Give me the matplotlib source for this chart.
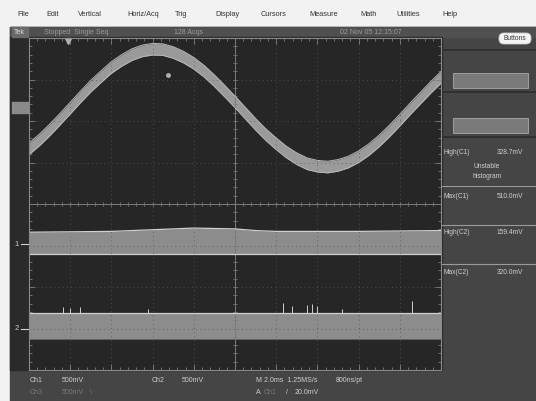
import numpy as np
import matplotlib
matplotlib.use("Agg")
import matplotlib.pyplot as plt
from matplotlib.patches import Rectangle, FancyBboxPatch

plt.rcParams['font.family'] = ['Liberation Sans', 'DejaVu Sans']

# --- data (x and y in graticule divisions) ---
sine_x = [0.0, 0.25, 0.5, 0.75, 1.0, 1.25, 1.5, 1.75, 2.0, 2.25, 2.5, 2.75,
          3.0, 3.25, 3.5, 3.75, 4.0, 4.25, 4.5, 4.75, 5.0, 5.25, 5.5, 5.75,
          6.0, 6.25, 6.5, 6.75, 7.0, 7.25, 7.5, 7.75, 8.0, 8.25, 8.5, 8.75,
          9.0, 9.25, 9.5, 9.75, 10.0]
sine_y = [1.33, 1.54, 1.78, 2.04, 2.31, 2.58, 2.84, 3.07, 3.29, 3.46, 3.60, 3.69,
          3.73, 3.72, 3.65, 3.54, 3.39, 3.20, 2.97, 2.72, 2.46, 2.19, 1.92, 1.67,
          1.45, 1.25, 1.09, 0.97, 0.91, 0.89, 0.93, 1.01, 1.14, 1.31, 1.52, 1.76,
          2.02, 2.29, 2.55, 2.81, 3.05]

ch1_x = [0, 1, 2, 3, 4, 5, 5.5, 6, 7, 8, 9, 10]
ch1_top = [-0.68, -0.67, -0.66, -0.62, -0.58, -0.60, -0.64, -0.66, -0.66, -0.66, -0.65, -0.64]
ch1_bottom = -1.20

ch2_top = -2.63
ch2_bottom = -3.25
spike_x = [0.83, 1.0, 1.24, 2.9, 6.17, 6.38, 6.75, 6.87, 6.99, 7.6, 9.3]
spike_top = [-2.48, -2.50, -2.47, -2.52, -2.39, -2.46, -2.44, -2.42, -2.45, -2.52, -2.34]

menu_items = ["File", "Edit", "Vertical", "Horiz/Acq", "Trig", "Display",
              "Cursors", "Measure", "Math", "Utilities", "Help"]
menu_pos = [17, 46, 78, 127, 175, 215, 261, 309, 360, 396, 442]

meas_names = ["High(C1)", "Max(C1)", "High(C2)", "Max(C2)"]
meas_values = ["328.7mV", "510.0mV", "159.4mV", "320.0mV"]
meas_rows = [153, 196, 233, 272]

W, H = 536, 401
fig = plt.figure(figsize=(W / 100, H / 100), dpi=100)

# background axes in pixel coordinates
bg = fig.add_axes([0, 0, 1, 1])
bg.set_xlim(0, W)
bg.set_ylim(H, 0)
bg.axis('off')
bg.add_patch(Rectangle((0, 0), W, H, color='#f2f2f2'))
bg.add_patch(Rectangle((10, 27), W - 10, H - 27, color='#454545'))
bg.add_patch(Rectangle((10, 27), W - 10, 10, color='#505050'))
bg.add_patch(Rectangle((10, 37), 432, 333, color='#2a2a2a'))

for name, px in zip(menu_items, menu_pos):
    bg.text(px, 15, name, fontsize=5.3, color='#333333', va='center')

# status bar
bg.add_patch(Rectangle((12, 27), 16, 10, color='#6a6a6a'))
bg.text(14, 32, "Tek", fontsize=5, color='#dddddd', va='center')
bg.text(44, 32, "Stopped  Single Seq", fontsize=5, color='#9a9a9a', va='center')
bg.text(174, 32, "128 Acqs", fontsize=5, color='#9a9a9a', va='center')
bg.text(340, 32, "02 Nov 05 12:15:07", fontsize=5, color='#9a9a9a', va='center')
bg.add_patch(FancyBboxPatch((499, 33), 32, 11, boxstyle="round,pad=0,rounding_size=5",
                            fc='#f4f4f4', ec='#cccccc', lw=0.6))
bg.text(515, 38.5, "Buttons", fontsize=4.8, color='#333333', ha='center', va='center')

# right panel
for yy in [50, 92, 137]:
    bg.plot([442, W], [yy, yy], color='#2c2c2c', lw=1.2)
for yy in [186, 225, 264]:
    bg.plot([442, W], [yy, yy], color='#9a9a9a', lw=0.8)
for yy in [73, 118]:
    bg.add_patch(Rectangle((453, yy), 75, 15, fc='#7a7a7a', ec='#a0a0a0', lw=0.7))
for name, val, yy in zip(meas_names, meas_values, meas_rows):
    bg.text(444, yy, name, fontsize=4.8, color='#d0d0d0', va='center')
    bg.text(497, yy, val, fontsize=4.8, color='#d0d0d0', va='center')
bg.text(487, 166, "Unstable", fontsize=4.8, color='#d0d0d0', ha='center', va='center')
bg.text(487, 177, "histogram", fontsize=4.8, color='#d0d0d0', ha='center', va='center')

# left strip markers
bg.add_patch(Rectangle((12, 102), 16, 11, color='#8a8a8a'))
bg.text(17, 244, "1", fontsize=5.5, color='#d0d0d0', ha='center', va='center')
bg.plot([21, 28], [244, 244], color='#d0d0d0', lw=0.8)
bg.text(17, 329, "2", fontsize=5.5, color='#d0d0d0', ha='center', va='center')
bg.plot([21, 28], [329, 329], color='#d0d0d0', lw=0.8)

# bottom readout
bg.text(30, 380, "Ch1", fontsize=5, color='#cfcfcf', va='center')
bg.text(62, 380, "500mV", fontsize=5, color='#cfcfcf', va='center')
bg.text(152, 380, "Ch2", fontsize=5, color='#cfcfcf', va='center')
bg.text(182, 380, "500mV", fontsize=5, color='#cfcfcf', va='center')
bg.text(256, 380, "M 2.0ms  1.25MS/s", fontsize=5, color='#cfcfcf', va='center')
bg.text(336, 380, "800ns/pt", fontsize=5, color='#cfcfcf', va='center')
bg.text(30, 392, "Ch3", fontsize=5, color='#7a7a7a', va='center')
bg.text(62, 392, "500mV", fontsize=5, color='#7a7a7a', va='center')
bg.text(90, 392, "\\", fontsize=5, color='#7a7a7a', va='center')
bg.text(256, 392, "A", fontsize=5, color='#cfcfcf', va='center')
bg.text(264, 392, "Ch1", fontsize=5, color='#7a7a7a', va='center')
bg.text(286, 392, "/", fontsize=5, color='#cfcfcf', va='center')
bg.text(295, 392, "20.0mV", fontsize=5, color='#cfcfcf', va='center')

# scope graticule
ax = fig.add_axes([29 / W, (H - 370) / H, 412 / W, 332 / H])
ax.set_facecolor('#262626')
ax.set_xlim(0, 10)
ax.set_ylim(-4, 4)
for s in ax.spines.values():
    s.set_color('#8a8a8a')
    s.set_linewidth(0.8)
ax.set_xticks(range(11))
ax.set_yticks(range(-4, 5))
ax.set_xticks(np.arange(0, 10.01, 0.2), minor=True)
ax.set_yticks(np.arange(-4, 4.01, 0.2), minor=True)
ax.tick_params(which='both', direction='in', top=True, right=True, colors='#8a8a8a',
               labelbottom=False, labelleft=False)
ax.tick_params(which='major', length=4, width=0.6)
ax.tick_params(which='minor', length=2, width=0.5)
for i in range(1, 10):
    ax.axvline(i, color='#555555', lw=0.6, ls=(0, (1, 4)))
for j in range(-3, 4):
    ax.axhline(j, color='#555555', lw=0.6, ls=(0, (1, 4)))
ax.axhline(0, color='#7c7c7c', lw=0.7)
ax.axvline(5, color='#7c7c7c', lw=0.7)
for t in np.arange(0, 10.01, 0.2):
    ax.plot([t, t], [-0.06, 0.06], color='#7c7c7c', lw=0.5)
for t in np.arange(-4, 4.01, 0.2):
    ax.plot([4.94, 5.06], [t, t], color='#7c7c7c', lw=0.5)

# sine trace
sy = np.array(sine_y)
ax.fill_between(sine_x, sy - 0.14, sy + 0.14, color='#9a9a9a', lw=0)
ax.plot(sine_x, sy + 0.14, color='#b8b8b8', lw=0.7)
ax.plot(sine_x, sy - 0.14, color='#b8b8b8', lw=0.7)
ax.plot([3.37], [3.11], 'o', ms=2.5, color='#b0b0b0')

# channel 1 band
ax.fill_between(ch1_x, ch1_top, ch1_bottom, color='#8c8c8c', lw=0)
ax.plot(ch1_x, ch1_top, color='#cfcfcf', lw=0.9)
ax.plot([0, 10], [ch1_bottom, ch1_bottom], color='#cfcfcf', lw=0.9)

# channel 2 band
ax.fill_between([0, 10], ch2_top, ch2_bottom, color='#8c8c8c', lw=0)
ax.plot([0, 10], [ch2_top, ch2_top], color='#cfcfcf', lw=0.9)
ax.plot([0, 10], [ch2_bottom, ch2_bottom], color='#6f6f6f', lw=0.6)
ax.vlines(spike_x, ch2_top, spike_top, color='#cfcfcf', lw=0.7)

# trigger position marker
ax.plot([0.95], [3.93], marker='v', ms=4, color='#b0b0b0', clip_on=False)

fig.savefig("out.png", dpi=100)
